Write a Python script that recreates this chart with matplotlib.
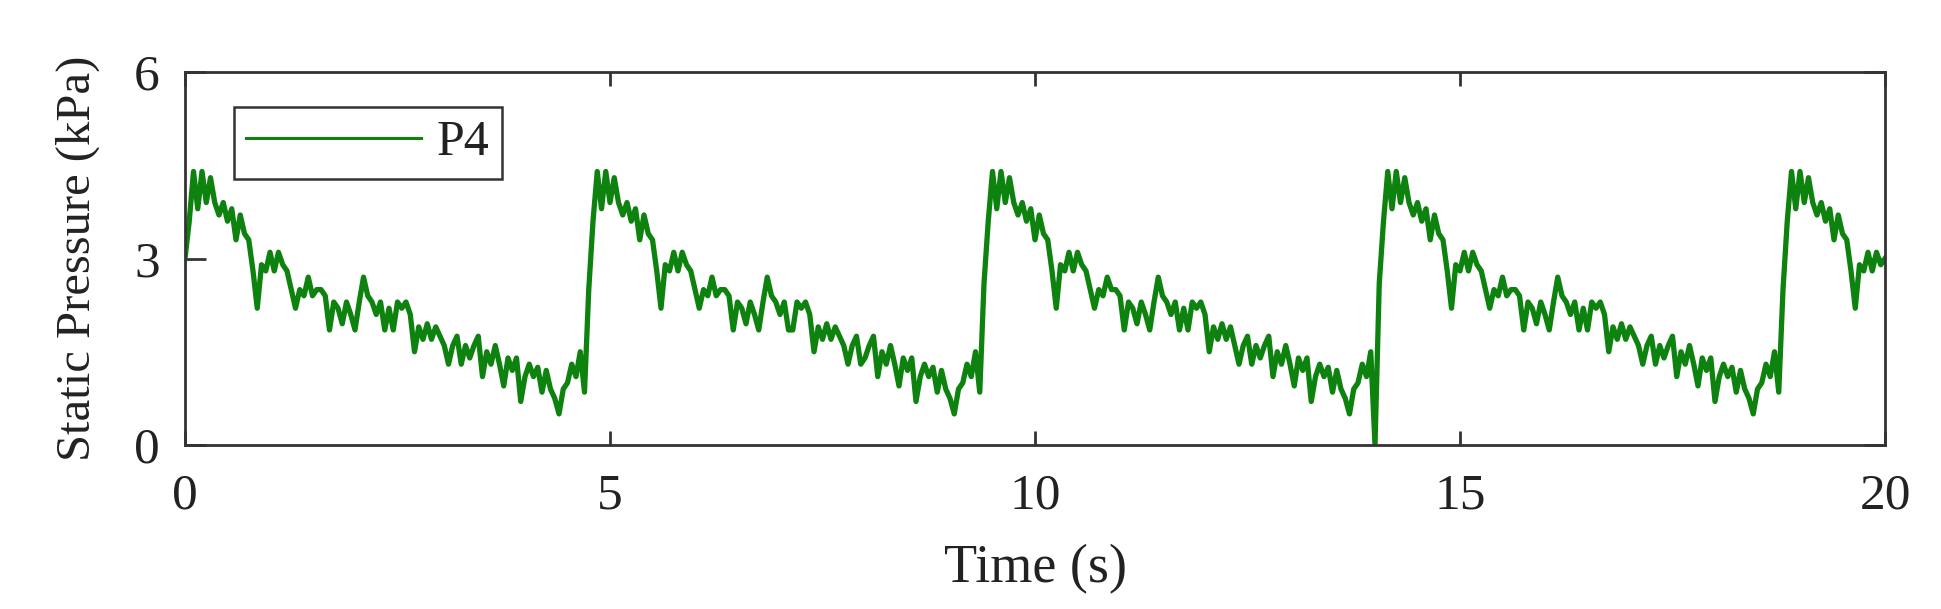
import numpy as np
import matplotlib
matplotlib.use("Agg")
import matplotlib.pyplot as plt

plt.rcParams['font.family'] = ['Liberation Serif', 'DejaVu Serif']

# time axis: samples every 0.05 s from 0 to 20 s
time_s = np.linspace(0, 20, 401)

# static pressure P4 (kPa), 10 samples per row
pressure_p4 = [
    3.0, 3.6, 4.4, 3.8, 4.4, 3.9, 4.3, 3.9, 3.7, 3.9,
    3.6, 3.8, 3.3, 3.7, 3.4, 3.3, 2.8, 2.2, 2.9, 2.8,
    3.1, 2.8, 3.1, 2.9, 2.8, 2.5, 2.2, 2.5, 2.4, 2.7,
    2.4, 2.5, 2.5, 2.4, 1.85, 2.3, 2.2, 1.95, 2.3, 2.1,
    1.85, 2.3, 2.7, 2.4, 2.3, 2.1, 2.3, 1.85, 2.2, 1.85,
    2.3, 2.2, 2.3, 2.1, 1.5, 1.9, 1.7, 1.95, 1.7, 1.9,
    1.75, 1.6, 1.3, 1.6, 1.75, 1.3, 1.6, 1.4, 1.6, 1.75,
    1.1, 1.5, 1.3, 1.6, 1.3, 0.95, 1.4, 1.2, 1.4, 0.7,
    1.1, 1.3, 1.1, 1.25, 0.85, 1.2, 0.9, 0.75, 0.5, 0.9,
    1.0, 1.3, 1.1, 1.5, 0.85, 2.5, 3.6, 4.4, 3.8, 4.4,
    3.9, 4.3, 3.9, 3.7, 3.9, 3.6, 3.8, 3.3, 3.7, 3.4,
    3.3, 2.8, 2.2, 2.9, 2.8, 3.1, 2.8, 3.1, 2.9, 2.8,
    2.5, 2.2, 2.5, 2.4, 2.7, 2.4, 2.5, 2.5, 2.4, 1.85,
    2.3, 2.2, 1.95, 2.3, 2.1, 1.85, 2.3, 2.7, 2.4, 2.3,
    2.1, 2.3, 1.85, 1.85, 2.3, 2.2, 2.3, 2.1, 1.5, 1.9,
    1.7, 1.95, 1.7, 1.9, 1.75, 1.6, 1.3, 1.6, 1.75, 1.3,
    1.4, 1.6, 1.75, 1.1, 1.5, 1.3, 1.6, 1.3, 0.95, 1.4,
    1.2, 1.4, 0.7, 1.1, 1.3, 1.1, 1.25, 0.85, 1.2, 0.9,
    0.75, 0.5, 0.9, 1.0, 1.3, 1.1, 1.5, 0.85, 2.6, 3.6,
    4.4, 3.8, 4.4, 3.9, 4.3, 3.9, 3.7, 3.9, 3.6, 3.8,
    3.3, 3.7, 3.4, 3.3, 2.8, 2.2, 2.9, 2.8, 3.1, 2.8,
    3.1, 2.9, 2.8, 2.5, 2.2, 2.5, 2.4, 2.7, 2.5, 2.5,
    2.4, 1.85, 2.3, 2.2, 1.95, 2.3, 2.1, 1.85, 2.3, 2.7,
    2.4, 2.3, 2.1, 2.3, 1.85, 2.2, 1.85, 2.3, 2.2, 2.3,
    2.1, 1.5, 1.9, 1.7, 1.95, 1.7, 1.9, 1.6, 1.3, 1.6,
    1.75, 1.3, 1.6, 1.4, 1.6, 1.75, 1.1, 1.5, 1.3, 1.6,
    1.3, 0.95, 1.4, 1.2, 1.4, 0.7, 1.1, 1.3, 1.1, 1.25,
    0.85, 1.2, 0.9, 0.75, 0.5, 0.9, 1.0, 1.3, 1.1, 1.5,
    0.0, 2.6, 3.6, 4.4, 3.8, 4.4, 3.9, 4.3, 3.9, 3.7,
    3.9, 3.6, 3.8, 3.3, 3.7, 3.4, 3.3, 2.8, 2.2, 2.9,
    2.8, 3.1, 2.8, 3.1, 2.9, 2.8, 2.5, 2.2, 2.5, 2.4,
    2.7, 2.4, 2.5, 2.5, 2.4, 1.85, 2.3, 2.2, 1.95, 2.3,
    2.1, 1.85, 2.3, 2.7, 2.4, 2.3, 2.1, 2.3, 1.85, 2.2,
    1.85, 2.3, 2.2, 2.3, 2.1, 1.5, 1.9, 1.7, 1.95, 1.7,
    1.9, 1.75, 1.6, 1.3, 1.6, 1.75, 1.3, 1.6, 1.4, 1.6,
    1.75, 1.1, 1.5, 1.3, 1.6, 1.3, 0.95, 1.4, 1.2, 1.4,
    0.7, 1.1, 1.3, 1.1, 1.25, 0.85, 1.2, 0.9, 0.75, 0.5,
    0.9, 1.0, 1.3, 1.1, 1.5, 0.85, 2.5, 3.6, 4.4, 3.8,
    4.4, 3.9, 4.3, 3.9, 3.7, 3.9, 3.6, 3.8, 3.3, 3.7,
    3.4, 3.3, 2.8, 2.2, 2.9, 2.8, 3.1, 2.8, 3.1, 2.9,
    3.0,
]

x_ticks = [0, 5, 10, 15, 20]
y_ticks = [0, 3, 6]

W, H = 1941, 609
fig = plt.figure(figsize=(W / 100, H / 100), dpi=100)
ax = fig.add_axes([185 / W, 1 - 445 / H, 1700 / W, 373 / H])

ax.plot(time_s, pressure_p4, color='#0e820e', lw=3.8, label='P4')

ax.set_xlim(0, 20)
ax.set_ylim(0, 6)
ax.set_xticks(x_ticks)
ax.set_yticks(y_ticks)

edge = '#333333'
for s in ax.spines.values():
    s.set_color(edge)
    s.set_linewidth(2.0)
ax.tick_params(direction='in', top=True, right=True, color=edge, width=2.0,
               labelsize=37, labelcolor='#222222')
ax.tick_params(axis='x', length=10, pad=20)
ax.tick_params(axis='y', length=15, pad=18)

ax.set_xlabel('Time (s)', fontsize=39, color='#222222')
ax.set_ylabel('Static Pressure (kPa)', fontsize=35, color='#222222')
ax.xaxis.set_label_coords(0.5, -0.265)
ax.yaxis.set_label_coords(-0.05, 0.5)

leg = ax.legend(loc='upper left', bbox_to_anchor=(0.0288, 0.906), borderaxespad=0,
                fontsize=36, handlelength=3.5, handletextpad=0.3, borderpad=0.25,
                fancybox=False, framealpha=1)
leg.get_frame().set_edgecolor(edge)
leg.get_frame().set_linewidth(1.8)
leg.get_lines()[0].set_linewidth(2.2)
for t in leg.get_texts():
    t.set_color('#222222')

fig.savefig('out.png', dpi=100)
